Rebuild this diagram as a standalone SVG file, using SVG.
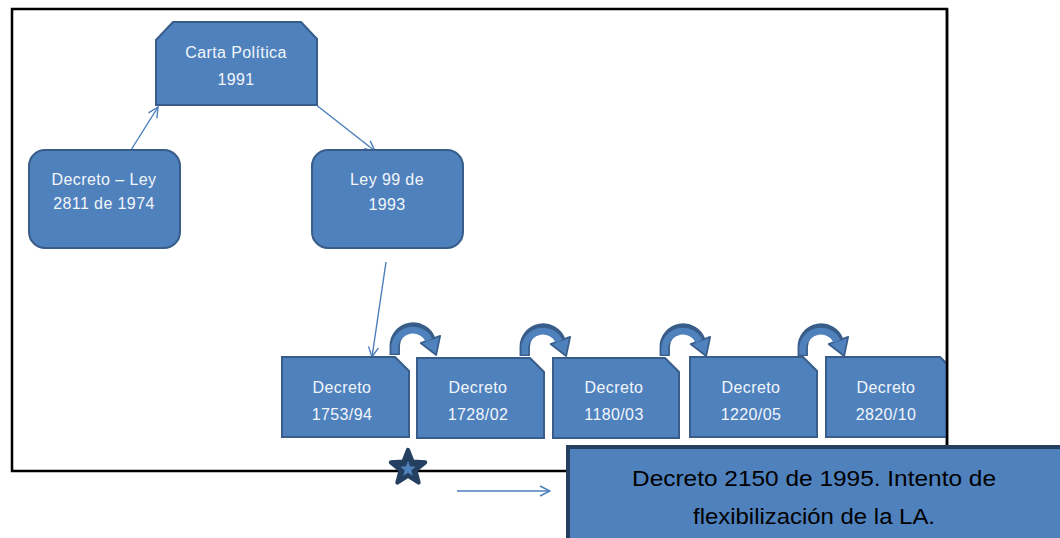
<svg xmlns="http://www.w3.org/2000/svg" width="1060" height="538" viewBox="0 0 1060 538">
<defs>
<style>
.box{fill:#4F81BD;stroke:#385D8A;stroke-width:2}
.lbl{font-family:"Liberation Sans",Arial,sans-serif;font-size:16px;fill:#F2F6FB;text-anchor:middle;letter-spacing:0.4px}
.con{stroke:#4A7EBB;stroke-width:1.4;fill:none}
.arcO{fill:none;stroke:#385D8A;stroke-width:9}
.arcI{fill:none;stroke:#4F81BD;stroke-width:6}
</style>
<marker id="open" viewBox="0 0 12 12" refX="11" refY="6" markerWidth="12" markerHeight="12" markerUnits="userSpaceOnUse" orient="auto">
<path d="M1,1 L11,6 L1,11" fill="none" stroke="#4A7EBB" stroke-width="1.4"/>
</marker>
<clipPath id="frameClip"><rect x="0" y="0" width="947" height="538"/></clipPath>
<g id="curl">
<path class="arcO" d="M5,0 L5,-8 A16,16 0 0 1 36,-13.5"/>
<polygon points="44.5,-16.6 27.5,-10.4 41,0" fill="#4F81BD" stroke="#385D8A" stroke-width="1.5" stroke-linejoin="round"/>
<path class="arcI" d="M5,-1 L5,-8 A16,16 0 0 1 35,-13"/>
</g>
</defs>
<rect width="1060" height="538" fill="#FFFFFF"/>
<rect x="12" y="9" width="935" height="462" fill="none" stroke="#000000" stroke-width="2.5"/>

<g id="connectors">
<line class="con" x1="131" y1="150" x2="158" y2="107" marker-end="url(#open)"/>
<line class="con" x1="315" y1="104" x2="375" y2="151" marker-end="url(#open)"/>
<line class="con" x1="386" y1="262" x2="372" y2="357" marker-end="url(#open)"/>
<line class="con" x1="457" y1="491" x2="550" y2="491" marker-end="url(#open)" stroke-width="1.8"/>
<use href="#curl" transform="translate(389,355) scale(1.15)"/>
<use href="#curl" transform="translate(519,356) scale(1.15)"/>
<use href="#curl" transform="translate(659,356) scale(1.15)"/>
<use href="#curl" transform="translate(797,356) scale(1.15)"/>
</g>

<g id="carta">
<path class="box" d="M156,40 L173,22 L301,22 L317,39 L317,105 L156,105 Z"/>
<text class="lbl" x="236" y="58">Carta Política</text>
<text class="lbl" x="236" y="85">1991</text>
</g>
<g id="decretoLey">
<rect class="box" x="29" y="150" width="151" height="98" rx="16"/>
<text class="lbl" x="104" y="185">Decreto – Ley</text>
<text class="lbl" x="104" y="209">2811 de 1974</text>
</g>
<g id="ley99">
<rect class="box" x="312" y="150" width="151" height="98" rx="16"/>
<text class="lbl" x="387" y="185">Ley 99 de</text>
<text class="lbl" x="387" y="210">1993</text>
</g>
<g id="d1753">
<path class="box" d="M282,357 L395,357 L409,371 L409,437 L282,437 Z"/>
<text class="lbl" x="342" y="393">Decreto</text>
<text class="lbl" x="342" y="420">1753/94</text>
</g>
<g id="d1728">
<path class="box" d="M417,358 L530,358 L544,372 L544,438 L417,438 Z"/>
<text class="lbl" x="478" y="393">Decreto</text>
<text class="lbl" x="478" y="420">1728/02</text>
</g>
<g id="d1180">
<path class="box" d="M553,358 L665,358 L679,372 L679,438 L553,438 Z"/>
<text class="lbl" x="614" y="393">Decreto</text>
<text class="lbl" x="614" y="420">1180/03</text>
</g>
<g id="d1220">
<path class="box" d="M690,357 L803,357 L817,371 L817,437 L690,437 Z"/>
<text class="lbl" x="751" y="393">Decreto</text>
<text class="lbl" x="751" y="420">1220/05</text>
</g>
<g id="d2820" clip-path="url(#frameClip)">
<path class="box" d="M826,357 L940,357 L954,371 L954,437 L826,437 Z"/>
<text class="lbl" x="886" y="393">Decreto</text>
<text class="lbl" x="886" y="420">2820/10</text>
</g>
<line x1="947" y1="9" x2="947" y2="471" stroke="#000000" stroke-width="2.5"/>

<g id="star" transform="translate(408,468) scale(1.2)">
<polygon points="0,-15 3.82,-5.26 14.27,-4.64 6.18,2.01 8.82,12.14 0,6.5 -8.82,12.14 -6.18,2.01 -14.27,-4.64 -3.82,-5.26" fill="#243F60" stroke="#243F60" stroke-width="3.5" stroke-linejoin="round"/>
<polygon points="0,-15 3.82,-5.26 14.27,-4.64 6.18,2.01 8.82,12.14 0,6.5 -8.82,12.14 -6.18,2.01 -14.27,-4.64 -3.82,-5.26" fill="#4F81BD" transform="translate(0,1) scale(0.45)"/>
</g>

<g id="nota">
<rect x="568" y="447" width="500" height="100" fill="#4F81BD" stroke="#243F60" stroke-width="4"/>
<text x="814" y="486" font-family="'Liberation Sans',Arial,sans-serif" font-size="22" fill="#000000" text-anchor="middle" textLength="364" lengthAdjust="spacingAndGlyphs">Decreto 2150 de 1995. Intento de</text>
<text x="814" y="524" font-family="'Liberation Sans',Arial,sans-serif" font-size="22" fill="#000000" text-anchor="middle" textLength="242" lengthAdjust="spacingAndGlyphs">flexibilización de la LA.</text>
</g>
</svg>
